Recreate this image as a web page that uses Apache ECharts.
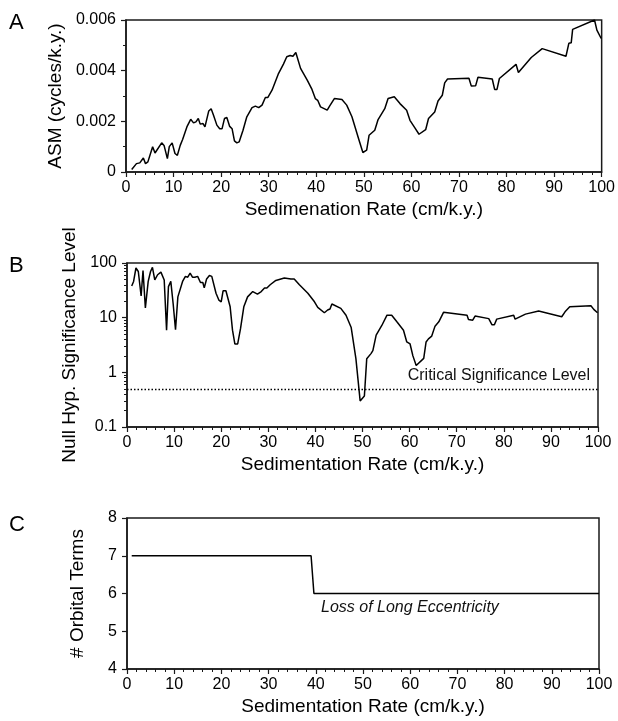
<!DOCTYPE html>
<html>
<head>
<meta charset="utf-8">
<script src="https://cdn.jsdelivr.net/npm/echarts@6/dist/echarts.min.js"></script>
<style>
  html, body { margin: 0; padding: 0; background: #fff; }
  #chart { width: 618px; height: 721px; }
</style>
</head>
<body>
<div id="chart"></div>
<script>
  var FONT = "'Liberation Sans', Arial, Helvetica, sans-serif";

  // panel A: ASM vs sedimentation rate
  var asmRate = [1.2, 2.2, 2.9, 3.3, 3.65, 4.1, 4.6, 5.6, 6.1, 7.5, 8.0, 8.7, 9.1, 9.7, 10.3, 10.8, 11.4, 11.9,
    12.8, 13.2, 13.6, 14.2, 14.7, 15.2, 15.6, 16.2, 16.6, 17.4, 17.9, 18.4, 19.1, 19.7, 20.2, 20.7, 21.2, 21.8,
    22.3, 22.8, 23.3, 23.8, 24.6, 25.4, 26.5, 27.2, 27.9, 28.6, 29.3, 29.8, 30.7, 32.0, 33.1, 33.8, 34.5, 35.1,
    35.7, 36.7, 38.1, 39.1, 39.8, 40.3, 40.9, 42.3, 42.8, 43.2, 43.8, 45.4, 46.4, 47.5, 49.0, 49.8, 50.6, 51.1,
    52.3, 53.0, 54.4, 55.1, 56.4, 57.6, 59.0, 59.7, 60.1, 60.7, 61.0, 61.6, 63.0, 63.6, 64.9, 65.6, 66.5, 67.0,
    67.6, 72.1, 72.6, 73.5, 74.0, 77.0, 77.5, 78.0, 78.5, 82.0, 82.5, 85.2, 87.5, 92.5, 93.1, 93.6, 93.9, 98.5,
    99.0, 99.4, 99.9];
  var asmValue = [0.0001, 0.00033, 0.00036, 0.00029, 0.00055, 0.00033, 0.0004, 0.001, 0.00075, 0.00115, 0.00105,
    0.00053, 0.001, 0.00115, 0.00073, 0.00066, 0.00105, 0.00128, 0.00178, 0.0018, 0.00208, 0.00194, 0.00198,
    0.00211, 0.00189, 0.00191, 0.00178, 0.00241, 0.0025, 0.00224, 0.00185, 0.00171, 0.00171, 0.00211, 0.00215,
    0.0018, 0.00171, 0.00123, 0.00115, 0.00119, 0.00165, 0.00218, 0.00254, 0.0026, 0.00254, 0.00264, 0.00294,
    0.00294, 0.00323, 0.00386, 0.00426, 0.00455, 0.0046, 0.00457, 0.00472, 0.00409, 0.00363, 0.00326, 0.0029,
    0.00283, 0.00257, 0.00244, 0.0026, 0.00264, 0.0029, 0.00286, 0.00264, 0.00218, 0.00125, 0.00077, 0.00086,
    0.00145, 0.00165, 0.00207, 0.0025, 0.0029, 0.00297, 0.0027, 0.00244, 0.00204, 0.00202, 0.00175, 0.00175,
    0.00149, 0.00167, 0.00211, 0.00237, 0.0028, 0.00303, 0.00352, 0.00367, 0.0037, 0.00339, 0.0034, 0.00374,
    0.00367, 0.00326, 0.00326, 0.00369, 0.00425, 0.00393, 0.00452, 0.00487, 0.00457, 0.00508, 0.0051, 0.00563,
    0.006, 0.0056, 0.00563, 0.00527];

  // panel B: null hypothesis significance level (%)
  var sigRate = [1.0, 1.4, 1.9, 2.4, 3.0, 3.4, 3.9, 4.5, 5.0, 5.4, 5.9, 6.5, 7.2, 7.6, 7.9, 8.4, 8.8, 9.3, 9.8,
    10.3, 10.8, 11.8, 12.4, 12.9, 13.4, 13.9, 14.4, 15.0, 15.6, 16.1, 16.4, 16.9, 17.5, 18.0, 18.9, 19.5, 20.0,
    20.4, 21.0, 21.9, 22.4, 22.9, 23.5, 24.1, 24.8, 25.6, 26.7, 27.7, 28.5, 29.2, 29.7, 30.4, 31.6, 33.4, 34.8,
    35.5, 36.6, 38.4, 39.8, 40.5, 41.9, 42.6, 43.1, 43.5, 45.4, 46.5, 47.6, 48.6, 49.5, 49.9, 50.4, 50.9, 51.8,
    52.2, 52.9, 54.1, 55.2, 56.2, 57.3, 58.7, 59.4, 60.1, 60.7, 61.4, 63.0, 63.5, 64.0, 64.7, 65.4, 66.2, 67.2,
    72.2, 72.5, 73.4, 73.9, 76.8, 77.5, 78.0, 78.5, 82.1, 82.4, 84.6, 87.4, 92.3, 93.0, 94.0, 98.5, 99.1, 99.9];
  var sigValue = [38, 46, 81, 70, 25, 73, 15, 46, 70, 83, 49, 61, 68, 68, 49, 5.9, 37, 46, 18, 6.0, 24, 46, 57,
    55, 65, 55, 55, 57, 44, 44, 35, 51, 59, 57, 28, 21, 19.5, 31, 31, 15.8, 5.9, 3.3, 3.3, 6.3, 15.8, 24, 30, 27,
    30, 35, 35, 40, 48, 53, 51, 51, 40, 28, 19.5, 15.4, 12.3, 13.8, 14.4, 17.8, 14.8, 11.1, 6.6, 1.78, 0.3, 0.31,
    0.37, 1.78, 2.2, 2.5, 4.8, 7.2, 11.1, 11.1, 8.4, 5.9, 3.6, 3.3, 2.0, 1.33, 1.8, 3.6, 4.1, 4.6, 7.0, 8.4, 12.5,
    11.1, 9.3, 9.0, 10.7, 9.6, 7.4, 7.4, 9.4, 11.1, 9.4, 11.6, 13.2, 10.4, 12.8, 15.8, 16.5, 14.2, 12.3];
  var criticalLevel = 0.5;
  var logMinorTicks = [0.2, 0.3, 0.4, 0.5, 0.6, 0.7, 0.8, 0.9, 2, 3, 4, 5, 6, 7, 8, 9, 20, 30, 40, 50, 60, 70, 80, 90];

  // panel C: number of orbital terms
  var termRate = [1, 39, 39.6, 100];
  var termCount = [7, 7, 6, 6];
  var lossLabelAt = [41.1, 5.63];

  function pairs(xs, ys) {
    return xs.map(function (x, i) { return [x, ys[i]]; });
  }

  var axisColor = '#1a1a1a';

  function xAxisFor(grid, name) {
    return {
      type: 'value', gridIndex: grid, min: 0, max: 100, interval: 10,
      name: name, nameLocation: 'middle', nameGap: 28,
      nameTextStyle: { fontSize: 19, color: '#000', fontFamily: FONT },
      axisLine: { onZero: false, lineStyle: { color: axisColor, width: 1.5 } },
      axisTick: { length: 5, lineStyle: { color: axisColor, width: 1.2 } },
      minorTick: { show: true, splitNumber: 5, length: 3, lineStyle: { color: axisColor, width: 1 } },
      axisLabel: { fontSize: 16, color: '#000', margin: 8, fontFamily: FONT },
      splitLine: { show: false }
    };
  }

  function yAxisBase(grid, name, gap) {
    return {
      gridIndex: grid, name: name, nameLocation: 'middle', nameGap: gap,
      nameTextStyle: { fontSize: 19, color: '#000', fontFamily: FONT },
      axisLine: { show: true, onZero: false, lineStyle: { color: axisColor, width: 1.5 } },
      axisTick: { show: true, length: 5, lineStyle: { color: axisColor, width: 1.2 } },
      axisLabel: { fontSize: 16, color: '#000', margin: 10, fontFamily: FONT },
      splitLine: { show: false }
    };
  }

  var yA = yAxisBase(0, 'ASM (cycles/k.y.)', 52);
  yA.type = 'value'; yA.min = 0; yA.max = 0.006; yA.interval = 0.002;
  yA.minorTick = { show: true, splitNumber: 2, length: 3, lineStyle: { color: axisColor, width: 1 } };

  var yB = yAxisBase(1, 'Null Hyp. Significance Level', 42);
  yB.type = 'log'; yB.logBase = 10; yB.min = 0.1; yB.max = 100;

  // minor log ticks drawn by an overlaid axis in log10 space
  var yBMinor = {
    type: 'value', gridIndex: 1, min: -1, max: 2, position: 'left',
    axisLine: { show: false, onZero: false },
    axisLabel: { show: false },
    splitLine: { show: false },
    axisTick: { show: true, length: 3, lineStyle: { color: axisColor, width: 1 },
      customValues: logMinorTicks.map(function (v) { return Math.log10(v); }) }
  };

  var yC = yAxisBase(2, '# Orbital Terms', 40);
  yC.type = 'value'; yC.min = 4; yC.max = 8; yC.interval = 1;

  var gridStyle = { show: true, borderColor: axisColor, borderWidth: 1.5, backgroundColor: 'transparent' };

  var option = {
    animation: false,
    backgroundColor: '#fff',
    textStyle: { fontFamily: FONT },
    grid: [
      Object.assign({ left: 126, top: 20, width: 476, height: 152 }, gridStyle),
      Object.assign({ left: 127, top: 263, width: 471, height: 164 }, gridStyle),
      Object.assign({ left: 127, top: 518, width: 472, height: 151 }, gridStyle)
    ],
    xAxis: [
      xAxisFor(0, 'Sedimenation Rate (cm/k.y.)'),
      xAxisFor(1, 'Sedimentation Rate (cm/k.y.)'),
      xAxisFor(2, 'Sedimentation Rate (cm/k.y.)')
    ],
    yAxis: [yA, yB, yBMinor, yC],
    graphic: [
      { type: 'text', left: 9, top: 12, style: { text: 'A', fontSize: 22, fill: '#000', fontFamily: FONT } },
      { type: 'text', left: 9, top: 255, style: { text: 'B', fontSize: 22, fill: '#000', fontFamily: FONT } },
      { type: 'text', left: 9, top: 514, style: { text: 'C', fontSize: 22, fill: '#000', fontFamily: FONT } }
    ],
    series: [
      {
        type: 'line', xAxisIndex: 0, yAxisIndex: 0, showSymbol: false,
        lineStyle: { color: '#000', width: 1.5 },
        data: pairs(asmRate, asmValue)
      },
      {
        type: 'line', xAxisIndex: 1, yAxisIndex: 1, showSymbol: false,
        lineStyle: { color: '#000', width: 1.5 },
        data: pairs(sigRate, sigValue),
        markLine: {
          silent: true, symbol: 'none',
          lineStyle: { color: '#000', type: [1.5, 2], width: 1.3 },
          label: {
            show: true, position: 'insideEndTop', formatter: 'Critical Significance Level',
            fontSize: 16, color: '#111', fontFamily: FONT, distance: [8, 5]
          },
          data: [{ yAxis: criticalLevel }]
        }
      },
      {
        type: 'line', xAxisIndex: 2, yAxisIndex: 3, showSymbol: false,
        lineStyle: { color: '#000', width: 1.5 },
        data: pairs(termRate, termCount),
        markPoint: {
          silent: true, symbol: 'circle', symbolSize: 0,
          label: {
            show: true, position: 'right', distance: 0, formatter: 'Loss of Long Eccentricity',
            fontSize: 16, fontStyle: 'italic', color: '#111', fontFamily: FONT
          },
          data: [{ coord: lossLabelAt }]
        }
      }
    ]
  };

  var myChart = echarts.init(document.getElementById('chart'));
  myChart.setOption(option);
</script>
</body>
</html>
